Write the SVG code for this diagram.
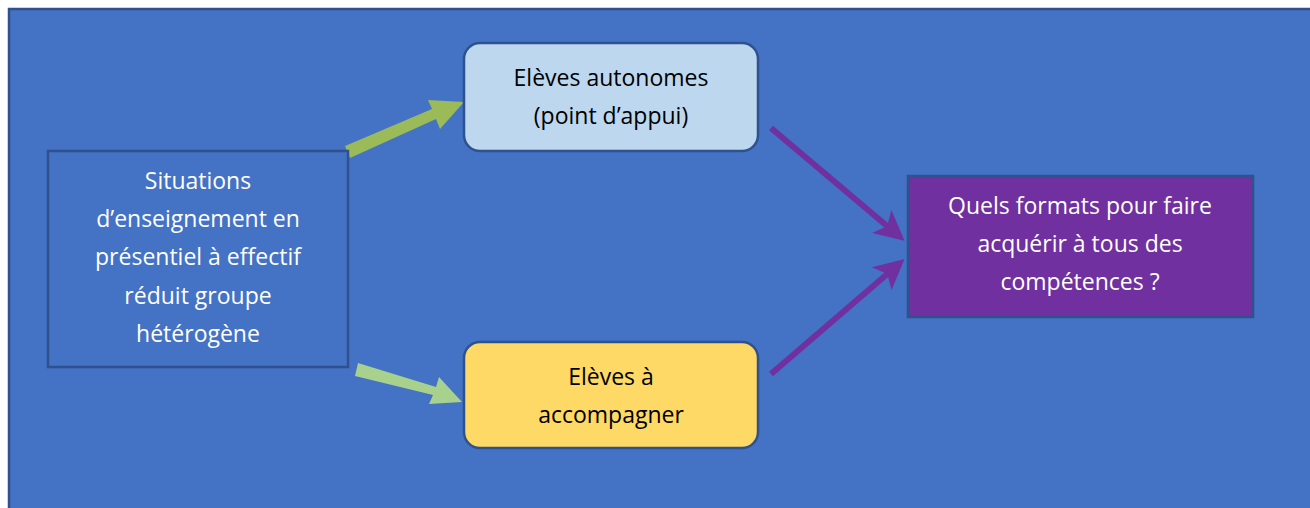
<svg xmlns="http://www.w3.org/2000/svg" width="1310" height="508" viewBox="0 0 1310 508">
<style>
.t{font-family:"Open Sans","Liberation Sans",sans-serif;font-size:23px;text-anchor:middle}
.w{fill:#ffffff}
.k{fill:#000000}
.b{stroke:#2F528F;stroke-width:2.5}
</style>
<defs>
<marker id="mp" markerWidth="5" markerHeight="5" refX="4" refY="2.5" orient="auto" markerUnits="strokeWidth"><path d="M0,0 L5,2.5 L0,5 L1.2,2.5 Z" fill="#7030A0"/></marker>
</defs>
<rect x="9" y="9" width="1310" height="510" fill="#4472C4" stroke="#2F528F" stroke-width="2.5"/>
<g id="connectors">
<polygon points="345,146 432,109 428,100 464,102 440,129 436,119 350,158" fill="#9BBB59"/>
<polygon points="358,363 436,387 439,377 462,402 429,404 433,395 355,376" fill="#A9D18E"/>
<line x1="771" y1="128" x2="900" y2="237" stroke="#7030A0" stroke-width="6" marker-end="url(#mp)"/>
<line x1="771" y1="374" x2="900" y2="263" stroke="#7030A0" stroke-width="6" marker-end="url(#mp)"/>
</g>
<g id="situations">
<rect x="48" y="151" width="300" height="216" fill="#4472C4" class="b"/>
<text class="t w" x="198" y="189">Situations</text>
<text class="t w" x="198" y="227">d’enseignement en</text>
<text class="t w" x="198" y="265">présentiel à effectif</text>
<text class="t w" x="198" y="304">réduit groupe</text>
<text class="t w" x="198" y="342">hétérogène</text>
</g>
<g id="autonomes">
<rect x="464" y="43" width="294" height="108" rx="16" fill="#BDD7EE" class="b"/>
<text class="t k" x="611" y="86">Elèves autonomes</text>
<text class="t k" x="611" y="124">(point d’appui)</text>
</g>
<g id="accompagner">
<rect x="464" y="342" width="294" height="106" rx="16" fill="#FFD966" class="b"/>
<text class="t k" x="611" y="385">Elèves à</text>
<text class="t k" x="611" y="423">accompagner</text>
</g>
<g id="formats">
<rect x="908" y="176" width="345" height="141" fill="#7030A0" class="b"/>
<text class="t w" x="1080" y="214">Quels formats pour faire</text>
<text class="t w" x="1080" y="252">acquérir à tous des</text>
<text class="t w" x="1080" y="290">compétences ?</text>
</g>
</svg>
